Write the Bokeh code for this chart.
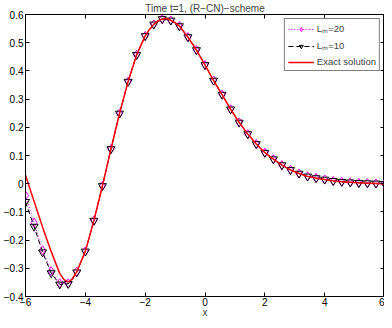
from bokeh.plotting import figure
from bokeh.models import (Legend, LegendItem, LinearAxis, Range1d, FixedTicker,
                          CustomJSTickFormatter)
from bokeh.embed import file_html
from bokeh.resources import INLINE

# ---- data ----
x_nodes = [-6.0, -5.714, -5.429, -5.143, -4.857, -4.571, -4.286, -4.0, -3.714, -3.429,
           -3.143, -2.857, -2.571, -2.286, -2.0, -1.714, -1.429, -1.143, -0.857, -0.571,
           -0.286, 0.0, 0.286, 0.571, 0.857, 1.143, 1.429, 1.714, 2.0, 2.286,
           2.571, 2.857, 3.143, 3.429, 3.714, 4.0, 4.286, 4.571, 4.857, 5.143,
           5.429, 5.714, 6.0]
lm20 = [-0.042, -0.138, -0.236, -0.310, -0.353, -0.353, -0.312, -0.240, -0.131, -0.008,
        0.123, 0.249, 0.362, 0.457, 0.524, 0.565, 0.584, 0.579, 0.559, 0.520,
        0.474, 0.421, 0.366, 0.316, 0.264, 0.217, 0.176, 0.141, 0.110, 0.087,
        0.066, 0.049, 0.036, 0.026, 0.020, 0.015, 0.010, 0.007, 0.005, 0.003,
        0.002, 0.001, 0.000]
lm10 = [-0.064, -0.152, -0.243, -0.317, -0.357, -0.355, -0.314, -0.240, -0.131, -0.008,
        0.123, 0.249, 0.362, 0.457, 0.524, 0.565, 0.584, 0.579, 0.559, 0.520,
        0.474, 0.421, 0.366, 0.316, 0.264, 0.217, 0.176, 0.141, 0.110, 0.087,
        0.066, 0.049, 0.036, 0.026, 0.020, 0.015, 0.010, 0.007, 0.005, 0.003,
        0.002, 0.001, 0.000]
exact_x = [-6.0, -5.714, -5.429, -5.143, -4.857, -4.714, -4.571, -4.429, -4.286, -4.0,
           -3.714, -3.429, -3.143, -2.857, -2.571, -2.286, -2.0, -1.857, -1.714, -1.571,
           -1.429, -1.286, -1.143, -1.0, -0.857, -0.571, -0.286, 0.0, 0.286, 0.571,
           0.857, 1.143, 1.429, 1.714, 2.0, 2.286, 2.571, 2.857, 3.143, 3.429,
           3.714, 4.0, 4.286, 4.571, 4.857, 5.143, 5.429, 5.714, 6.0]
exact_y = [0.030, -0.062, -0.154, -0.240, -0.318, -0.340, -0.348, -0.338, -0.312, -0.240,
           -0.131, -0.008, 0.123, 0.249, 0.362, 0.457, 0.524, 0.547, 0.565, 0.578,
           0.584, 0.586, 0.579, 0.571, 0.559, 0.520, 0.474, 0.421, 0.366, 0.316,
           0.264, 0.217, 0.176, 0.141, 0.110, 0.087, 0.066, 0.049, 0.036, 0.026,
           0.020, 0.015, 0.010, 0.007, 0.005, 0.003, 0.002, 0.001, 0.000]
x_ticks = [-6, -4, -2, 0, 2, 4, 6]
y_ticks = [-0.4, -0.3, -0.2, -0.1, 0.0, 0.1, 0.2, 0.3, 0.4, 0.5, 0.6]
title_text = "Time t=1, (R\u2212CN)\u2212scheme"
labels = ["L\u2098=20", "L\u2098=10", "Exact solution"]

FONT = "Liberation Sans"

p = figure(width=384, height=320, x_range=Range1d(-6, 6), y_range=Range1d(-0.4, 0.6),
           output_backend="svg", toolbar_location=None, title=title_text,
           min_border_left=0, min_border_right=0, min_border_top=0, min_border_bottom=0)
p.title.align = "center"
p.title.text_font = FONT
p.title.text_font_size = "10px"
p.title.text_font_style = "normal"
p.title.standoff = 1
p.title.offset = 0
p.grid.visible = False
p.outline_line_color = "black"
p.background_fill_color = "white"
p.border_fill_color = "white"

fmt_y = CustomJSTickFormatter(code="return Math.abs(tick) < 1e-9 ? '0' : tick.toFixed(1).replace('-', '\\u2212');")
fmt_x = CustomJSTickFormatter(code="return Math.abs(tick) < 1e-9 ? '0' : tick.toFixed(0).replace('-', '\\u2212');")
fmt_blank = CustomJSTickFormatter(code="return '';")

p.xaxis.ticker = FixedTicker(ticks=x_ticks)
p.yaxis.ticker = FixedTicker(ticks=y_ticks)
p.xaxis.formatter = fmt_x
p.yaxis.formatter = fmt_y
p.xaxis.axis_label = "x"
p.xaxis.axis_label_text_font = FONT
p.xaxis.axis_label_text_font_size = "10px"
p.xaxis.axis_label_text_font_style = "normal"
p.xaxis.axis_label_standoff = -2

for ax in p.axis:
    ax.major_tick_in = 4
    ax.major_tick_out = 0
    ax.minor_tick_line_color = None
    ax.axis_line_color = "black"
    ax.major_tick_line_color = "black"
    ax.major_label_text_font = FONT
    ax.major_label_text_font_size = "10px"
    ax.major_label_text_color = "black"
    ax.major_label_standoff = 2
p.xaxis.major_label_standoff = 1

for loc, tk in (("right", y_ticks), ("above", x_ticks)):
    a = LinearAxis(ticker=FixedTicker(ticks=tk), formatter=fmt_blank,
                   major_tick_in=4, major_tick_out=0,
                   minor_tick_line_color=None, major_label_text_color=None,
                   major_label_standoff=0, axis_line_color="black")
    p.add_layout(a, loc)

r20l = p.line(x_nodes, lm20, line_color="magenta", line_dash="1 2", line_width=1)
r20s = p.scatter(x_nodes, lm20, marker="diamond", size=9, line_color="magenta",
                 fill_alpha=0, line_width=1)
r10l = p.line(x_nodes, lm10, line_color="black", line_dash="5 3", line_width=1)
r10s = p.scatter(x_nodes, lm10, marker="inverted_triangle", size=8, line_color="black",
                 fill_alpha=0, line_width=1)
rex = p.line(exact_x, exact_y, line_color="red", line_width=1.5)

legend = Legend(items=[LegendItem(label=labels[0], renderers=[r20l, r20s]),
                       LegendItem(label=labels[1], renderers=[r10l, r10s]),
                       LegendItem(label=labels[2], renderers=[rex])],
                location="top_right", border_line_color="black", border_line_width=1,
                background_fill_alpha=1, label_text_font=FONT, label_text_font_size="9.5px",
                glyph_width=26, glyph_height=10, label_height=10, spacing=4,
                padding=3, margin=4, label_standoff=3)
p.add_layout(legend)

open("out.html", "w").write(file_html(p, INLINE))
